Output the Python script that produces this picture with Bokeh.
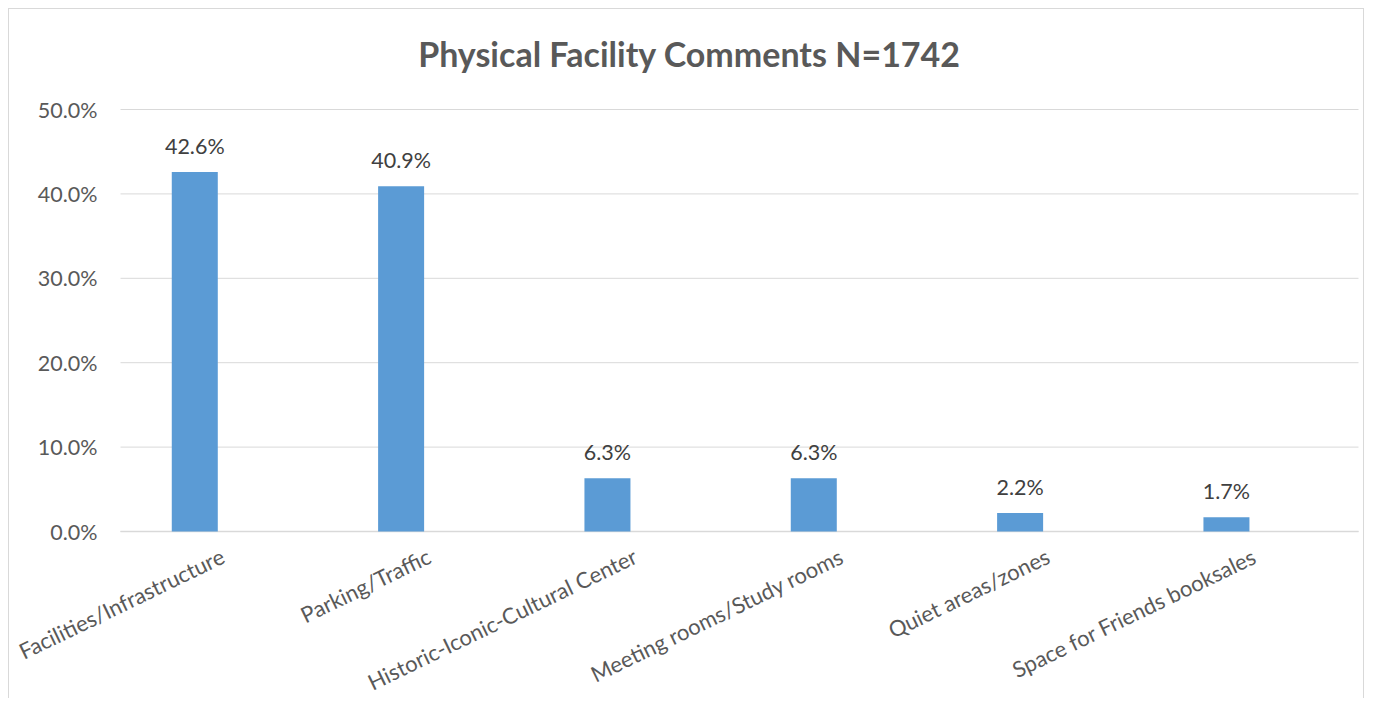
from bokeh.plotting import figure
from bokeh.models import Range1d, ColumnDataSource
from bokeh.embed import file_html
from bokeh.resources import INLINE
from bokeh.core.properties import value

categories = ["Facilities/Infrastructure", "Parking/Traffic", "Historic-Iconic-Cultural Center",
              "Meeting rooms/Study rooms", "Quiet areas/zones", "Space for Friends booksales"]
values = [42.6, 40.9, 6.3, 6.3, 2.2, 1.7]
y_ticks = [0, 10, 20, 30, 40, 50]
title_text = "Physical Facility Comments N=1742"

FONT = "Lato"
GREY = "#595959"
n = len(categories)
pos = [i + 0.5 for i in range(n)]          # slot centres of the categories
labels = [f"{v:.1f}%" for v in values]
tick_labels = [f"{t:.1f}%" for t in y_ticks]
src = ColumnDataSource(dict(x=pos, cat=categories, val=values, lab=labels, zero=[0] * n))

# layout constants (pixels, relative to the figure's top-left corner)
W, H = 1356, 690
TOP = 100              # 50% line
PLOT_LEFT = 111        # where the gridlines start
PLOT_RIGHT = 1349      # where the gridlines end
TITLE_CX, TITLE_CY = 680, 44
slot_px = (PLOT_RIGHT - PLOT_LEFT) / n
px_per_unit = 422 / 50.0
x_start = 0.14                                    # gridline start, in slot units
x_lo = x_start - PLOT_LEFT / slot_px
x_hi = x_lo + W / slot_px
x_end = x_start + n
y_top = 50 + TOP / px_per_unit
y_bottom = 50 - H / px_per_unit + TOP / px_per_unit

p = figure(x_range=Range1d(x_lo, x_hi), y_range=Range1d(y_bottom, y_top),
           width=W, height=H, output_backend="svg", toolbar_location=None,
           x_axis_location=None, y_axis_location=None,
           min_border_left=0, min_border_right=0, min_border_top=0, min_border_bottom=0)
p.styles = {"margin-left": "8px", "margin-top": "8px",
            "border-top": "1px solid #D9D9D9", "border-left": "1px solid #D9D9D9",
            "border-right": "1px solid #D9D9D9"}
p.outline_line_color = None
p.background_fill_color = "white"
p.border_fill_color = "white"
p.grid.visible = False

# gridlines and value axis labels
grid = ColumnDataSource(dict(y=y_ticks, t=tick_labels, x0=[x_start] * len(y_ticks), x1=[x_end] * len(y_ticks)))
p.segment(x0="x0", y0="y", x1="x1", y1="y", source=grid, line_color="#D9D9D9", line_width=1)
p.segment(x0=[x_start], y0=[0], x1=[x_end], y1=[0], line_color="#D9D9D9", line_width=1.5)
p.text(x="x0", y="y", text="t", source=grid, text_align="right", text_baseline="middle",
       x_offset=-23, text_font=value(FONT), text_font_size="21.5px", text_color=GREY)

p.vbar(x="x", top="val", width=0.223, source=src, fill_color="#5B9BD5", line_color=None)
p.text(x="x", y="val", text="lab", source=src, text_align="center", text_baseline="bottom",
       y_offset=-13, text_font=value(FONT), text_font_size="21.5px", text_color="#404040")

# category labels, rotated like the original
p.text(x="x", y="zero", text="cat", source=src, angle=0.45, text_align="right", text_baseline="top",
       x_offset=22, y_offset=11, text_font=value(FONT), text_font_size="22px", text_color=GREY)

# chart title
p.text(x=[x_lo + TITLE_CX / slot_px], y=[y_top - TITLE_CY / px_per_unit], text=[title_text],
       text_align="center", text_baseline="middle", text_font=value(FONT),
       text_font_style="bold", text_font_size="34px", text_color=GREY)

open("out.html", "w").write(file_html(p, INLINE))
